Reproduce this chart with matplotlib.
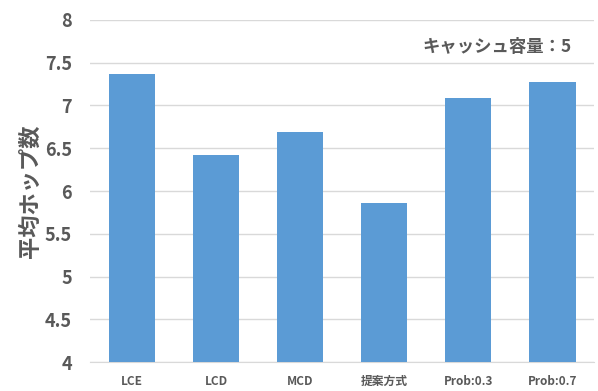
import matplotlib.pyplot as plt
import numpy as np

plt.rcParams['font.family'] = ['Noto Sans CJK JP', 'DejaVu Sans']

methods = ['LCE', 'LCD', 'MCD', '提案方式', 'Prob:0.3', 'Prob:0.7']
hops = [7.37, 6.42, 6.69, 5.86, 7.09, 7.28]
yticks = [4, 4.5, 5, 5.5, 6, 6.5, 7, 7.5, 8]

gray = '#595959'

fig = plt.figure(figsize=(5.98, 3.91), dpi=100)
ax = fig.add_axes([0.151, 0.074, 0.843, 0.875])

x = np.arange(len(methods))
ax.bar(x, hops, width=0.55, color='#5B9BD5', zorder=3)

ax.set_ylim(4, 8)
ax.set_xlim(-0.5, len(methods) - 0.5)
ax.set_yticks(yticks)
ax.set_yticklabels([f'{v:g}' for v in yticks], fontsize=13, fontweight='bold', color=gray)
ax.set_xticks(x)
ax.set_xticklabels(methods, fontsize=8.5, fontweight='bold', color=gray)
ax.tick_params(axis='both', length=0)
ax.tick_params(axis='x', pad=9)
ax.tick_params(axis='y', pad=13)

ax.yaxis.grid(True, color='#D9D9D9', linewidth=1, zorder=0)
for s in ['top', 'right', 'left']:
    ax.spines[s].set_visible(False)
ax.spines['bottom'].set_color('#D9D9D9')

ax.set_ylabel('平均ホップ数', fontsize=16, fontweight='bold', color=gray)
ax.yaxis.set_label_coords(-0.097, 0.5)
ax.text(0.955, 0.92, 'キャッシュ容量：5', transform=ax.transAxes, ha='right', va='center',
        fontsize=12.5, fontweight='bold', color=gray)

fig.savefig('out.png', dpi=100)
